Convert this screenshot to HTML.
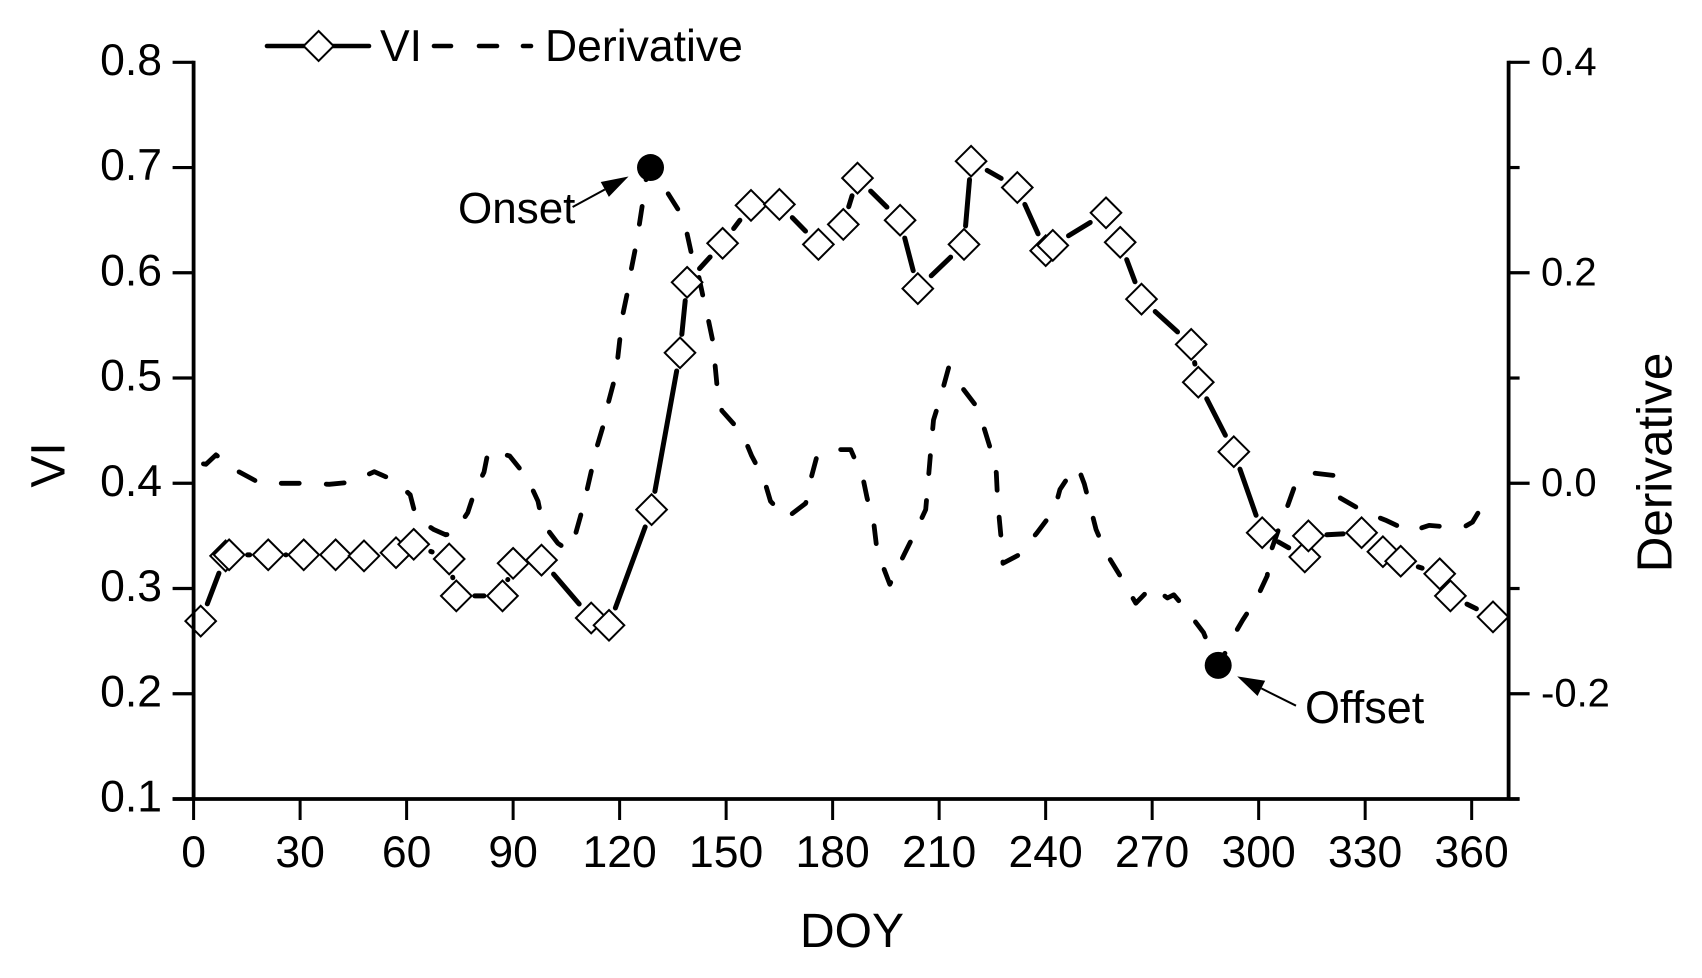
<!DOCTYPE html>
<html lang="en">
<head>
<meta charset="utf-8">
<title>VI and Derivative by DOY</title>
<style>
  html, body { margin: 0; padding: 0; background: #fff; }
  svg { display: block; }
  text { font-family: "Liberation Sans", Arial, sans-serif; fill: #000; }
</style>
</head>
<body>
<svg id="chart" xmlns="http://www.w3.org/2000/svg" width="1702" height="978" viewBox="0 0 1702 978">
  <rect x="0" y="0" width="1702" height="978" fill="#fff"/>
  <g id="deriv-layer"></g>
  <g id="vi-layer"></g>
  <g id="axes-layer"></g>
  <g id="note-layer"></g>
  <text x="852" y="947" font-size="48" text-anchor="middle">DOY</text>
  <text transform="translate(64.3 465) rotate(-90)" font-size="48" text-anchor="middle">VI</text>
  <text transform="translate(1671.7 462.5) rotate(-90)" font-size="49.4" text-anchor="middle">Derivative</text>
  <g>
    <g>
      <line x1="267" y1="46" x2="369" y2="46" stroke="#000" stroke-width="4.6" stroke-linecap="round"/>
      <polygon points="318.6,31 333.6,46 318.6,61 303.6,46" fill="#fff" stroke="#000" stroke-width="2"/>
      <text x="380" y="61" font-size="44.5">VI</text>
    </g>
    <g>
      <line x1="434" y1="46" x2="451" y2="46" stroke="#000" stroke-width="4.6" stroke-linecap="round"/>
      <line x1="479" y1="46" x2="497" y2="46" stroke="#000" stroke-width="4.6" stroke-linecap="round"/>
      <line x1="523" y1="46" x2="531" y2="46" stroke="#000" stroke-width="4.6" stroke-linecap="round"/>
      <text x="545" y="61" font-size="44.5">Derivative</text>
    </g>
  </g>
</svg>
<script>
// ---- Chart data ----
const xTickLabels = [0, 30, 60, 90, 120, 150, 180, 210, 240, 270, 300, 330, 360];
const leftTickLabels = ['0.1', '0.2', '0.3', '0.4', '0.5', '0.6', '0.7', '0.8'];
const rightMajorTickLabels = ['-0.2', '0.0', '0.2', '0.4'];
const rightMinorTickValues = [-0.3, -0.1, 0.1, 0.3];

const viDoy = [2, 9, 10, 21, 31, 40, 48, 57, 62, 72, 74, 87, 90, 98, 112, 117, 129, 137, 139, 149, 157, 165, 176, 183, 187, 199, 204, 217, 219, 232, 240, 242, 257, 261, 267, 281, 283, 293, 301, 313, 314, 329, 335, 340, 351, 354, 366];
const viValues = [0.269, 0.331, 0.332, 0.332, 0.332, 0.332, 0.331, 0.334, 0.342, 0.328, 0.293, 0.293, 0.324, 0.327, 0.272, 0.265, 0.375, 0.524, 0.591, 0.628, 0.664, 0.665, 0.627, 0.646, 0.690, 0.650, 0.585, 0.627, 0.706, 0.681, 0.621, 0.626, 0.657, 0.629, 0.575, 0.532, 0.496, 0.430, 0.353, 0.330, 0.350, 0.353, 0.335, 0.326, 0.314, 0.293, 0.273];

const derivDoy = [0, 3.5, 6.3, 12.7, 18.8, 31.8, 38.2, 44.3, 50.9, 56.6, 61, 62.7, 67.7, 71, 73.5, 77.2, 79.2, 81.8, 83, 89, 94, 97, 98.3, 102.6, 105.2, 107, 109, 110.5, 112, 113.3, 115.4, 116.6, 118.5, 119.4, 120.8, 122.3, 123.2, 124.6, 125.5, 126.6, 127.4, 128.7, 131.2, 132.2, 136.5, 137.7, 138.8, 140.3, 142.2, 143.7, 145, 146.5, 146.9, 147.5, 148.8, 154.6, 157.2, 160.7, 162.5, 167, 172.4, 174, 175.5, 180.9, 185.1, 188.5, 189.7, 191.6, 192.3, 194.3, 196.1, 200.1, 203.2, 206.2, 207.3, 207.8, 208.4, 210.4, 212.7, 215.3, 220.3, 222.6, 224.6, 226.1, 226.4, 226.9, 227.5, 228, 232.5, 237.6, 242.5, 244, 248.1, 249.3, 250.9, 252.7, 254.2, 257, 260.8, 265.4, 270, 274.3, 276.1, 279.6, 284.5, 286, 288.6, 290.6, 291.7, 295.5, 299.5, 302.4, 303.3, 305.6, 307.9, 310.2, 315.9, 322.3, 323, 329.7, 335.7, 342.6, 348, 354.8, 357.9, 360.2, 364, 366];
const derivValues = [0.020, 0.018, 0.027, 0.011, 0, 0, -0.001, 0.001, 0.011, 0.0025, -0.011, -0.033, -0.044, -0.049, -0.047, -0.028, -0.0075, 0.0105, 0.031, 0.026, 0.005, -0.017, -0.038, -0.057, -0.063, -0.055, -0.031, -0.011, 0.011, 0.031, 0.055, 0.074, 0.098, 0.117, 0.159, 0.183, 0.202, 0.226, 0.245, 0.269, 0.288, 0.300, 0.291, 0.283, 0.260, 0.253, 0.240, 0.217, 0.198, 0.174, 0.155, 0.131, 0.112, 0.090, 0.069, 0.047, 0.026, 0.0035, -0.017, -0.033, -0.019, 0.0057, 0.025, 0.032, 0.032, 0.0057, -0.014, -0.038, -0.058, -0.080, -0.096, -0.068, -0.047, -0.025, 0.018, 0.037, 0.060, 0.082, 0.110, 0.096, 0.074, 0.053, 0.031, 0.010, -0.012, -0.032, -0.054, -0.076, -0.068, -0.047, -0.025, -0.006, 0.015, 0.0136, -0.0006, -0.024, -0.044, -0.066, -0.087, -0.114, -0.098, -0.109, -0.106, -0.120, -0.142, -0.155, -0.173, -0.161, -0.152, -0.130, -0.109, -0.088, -0.066, -0.044, -0.024, -0.002, 0.0095, 0.007, -0.014, -0.027, -0.035, -0.046, -0.040, -0.042, -0.0415, -0.037, -0.016, -0.011];

const onsetDoy = 128.7;
const onsetValue = 0.300;
const offsetDoy = 288.6;
const offsetValue = -0.173;

// ---- Scales ----
const plotLeft = 193.6, plotRight = 1508.6, plotTop = 62.3, plotBottom = 799;
const xMin = 0, xMax = 370.4;
const vMin = 0.1, vMax = 0.8;
const dMin = -0.3, dMax = 0.4;
function xScale(d) { return plotLeft + (d - xMin) / (xMax - xMin) * (plotRight - plotLeft); }
function vScale(v) { return plotBottom - (v - vMin) / (vMax - vMin) * (plotBottom - plotTop); }
function dScale(v) { return plotBottom - (v - dMin) / (dMax - dMin) * (plotBottom - plotTop); }

const NS = 'http://www.w3.org/2000/svg';
function make(tag, parent) {
  const el = document.createElementNS(NS, tag);
  parent.appendChild(el);
  return el;
}
function stroke(el, w) {
  el.setAttribute('stroke', '#000');
  el.setAttribute('stroke-width', w);
  el.setAttribute('fill', 'none');
}
function setLine(el, x1, y1, x2, y2) {
  el.setAttribute('x1', x1);
  el.setAttribute('y1', y1);
  el.setAttribute('x2', x2);
  el.setAttribute('y2', y2);
}

// ---- Derivative series ----
const derivLayer = document.getElementById('deriv-layer');
const derivPath = make('path', derivLayer);


derivPath.setAttribute('d', derivDoy.map((d, i) => (i ? 'L' : 'M') + xScale(d).toFixed(1) + ' ' + dScale(derivValues[i]).toFixed(1)).join(' '));
stroke(derivPath, 4.8);
derivPath.setAttribute('stroke-dasharray', '18 27');
derivPath.setAttribute('stroke-dashoffset', '-10');
derivPath.setAttribute('stroke-linecap', 'round');
derivPath.setAttribute('stroke-linejoin', 'round');

// ---- VI series ----
const viLayer = document.getElementById('vi-layer');
const gap = 18.5;
for (let i = 0; i < viDoy.length - 1; i++) {
  const ax = xScale(viDoy[i]), ay = vScale(viValues[i]);
  const bx = xScale(viDoy[i + 1]), by = vScale(viValues[i + 1]);
  const len = Math.hypot(bx - ax, by - ay);
  if (len <= 33) continue;
  const trim = Math.min(gap, len / 2 - 0.05);
  const ux = (bx - ax) / len, uy = (by - ay) / len;
  const seg = make('line', viLayer);
  
  
  setLine(seg, ax + ux * trim, ay + uy * trim, bx - ux * trim, by - uy * trim);
  stroke(seg, 5);
  seg.setAttribute('stroke-linecap', 'round');
}
viDoy.forEach((d, i) => {
  const cx = xScale(d), cy = vScale(viValues[i]), r = 15.3;
  const dia = make('polygon', viLayer);
  
  
  dia.setAttribute('points', [[cx, cy - r], [cx + r, cy], [cx, cy + r], [cx - r, cy]].map(p => p[0].toFixed(1) + ',' + p[1].toFixed(1)).join(' '));
  stroke(dia, 2);
  dia.setAttribute('fill', '#fff');
});

// ---- Axes ----
const axes = document.getElementById('axes-layer');
const leftAxis = make('line', axes);


setLine(leftAxis, plotLeft, plotTop - 1.5, plotLeft, plotBottom);
stroke(leftAxis, 3.8);

const rightAxis = make('line', axes);


setLine(rightAxis, plotRight, plotTop - 1.5, plotRight, plotBottom);
stroke(rightAxis, 3.8);

const bottomAxis = make('line', axes);


setLine(bottomAxis, plotLeft - 21, plotBottom, plotRight + 11, plotBottom);
stroke(bottomAxis, 3.8);

xTickLabels.forEach(t => {
  const x = xScale(t);
  const tick = make('line', axes);
  
  
  setLine(tick, x, plotBottom, x, plotBottom + 21);
  stroke(tick, 3);
  const label = make('text', axes);
  
  
  label.setAttribute('x', x);
  label.setAttribute('y', 867);
  label.setAttribute('font-size', '44.5');
  label.setAttribute('text-anchor', 'middle');
  label.textContent = String(t);
});

leftTickLabels.forEach(t => {
  const y = vScale(parseFloat(t));
  const tick = make('line', axes);
  
  
  setLine(tick, plotLeft - 21, y, plotLeft, y);
  stroke(tick, 3.2);
  const label = make('text', axes);
  
  
  label.setAttribute('x', 162);
  label.setAttribute('y', y + 12.5);
  label.setAttribute('font-size', '44.5');
  label.setAttribute('text-anchor', 'end');
  label.textContent = t;
});

rightMajorTickLabels.forEach(t => {
  const y = dScale(parseFloat(t));
  const tick = make('line', axes);
  
  
  setLine(tick, plotRight, y, plotRight + 21, y);
  stroke(tick, 3.2);
  const label = make('text', axes);
  
  
  label.setAttribute('x', 1541);
  label.setAttribute('y', y + 12.5);
  label.setAttribute('font-size', '40');
  label.textContent = t;
});

rightMinorTickValues.forEach(t => {
  const y = dScale(t);
  const tick = make('line', axes);
  
  
  setLine(tick, plotRight, y, plotRight + 11, y);
  stroke(tick, 3.2);
});

// ---- Onset / offset annotations ----
const notes = document.getElementById('note-layer');
function addMarker(name, doy, value) {
  const c = make('circle', notes);
  
  
  c.setAttribute('cx', xScale(doy));
  c.setAttribute('cy', dScale(value));
  c.setAttribute('r', 13.5);
  c.setAttribute('fill', '#000');
}
addMarker('onset-marker', onsetDoy, onsetValue);
addMarker('offset-marker', offsetDoy, offsetValue);

function addArrow(name, tailX, tailY, tipDx, tipDy, doy, value) {
  const tx = xScale(doy) + tipDx, ty = dScale(value) + tipDy;
  const len = Math.hypot(tx - tailX, ty - tailY);
  const ux = (tx - tailX) / len, uy = (ty - tailY) / len;
  const headLen = 27, headHalf = 8.5;
  const bx = tx - ux * headLen, by = ty - uy * headLen;
  const shaft = make('line', notes);
  
  
  setLine(shaft, tailX, tailY, bx, by);
  stroke(shaft, 2);
  const head = make('polygon', notes);
  
  
  head.setAttribute('points', [tx, ty, bx - uy * headHalf, by + ux * headHalf, bx + uy * headHalf, by - ux * headHalf].join(' '));
  head.setAttribute('fill', '#000');
}
addArrow('onset-arrow', 572.6, 207, -22, 9, onsetDoy, onsetValue);
addArrow('offset-arrow', 1296, 705.7, 19, 11, offsetDoy, offsetValue);

function addNote(name, text, x, y, size) {
  const t = make('text', notes);
  
  
  t.setAttribute('x', x);
  t.setAttribute('y', y);
  t.setAttribute('font-size', size);
  t.textContent = text;
}
addNote('onset-label', 'Onset', 458, 223, 44);
addNote('offset-label', 'Offset', 1305, 723, 45);
</script>
</body>
</html>
